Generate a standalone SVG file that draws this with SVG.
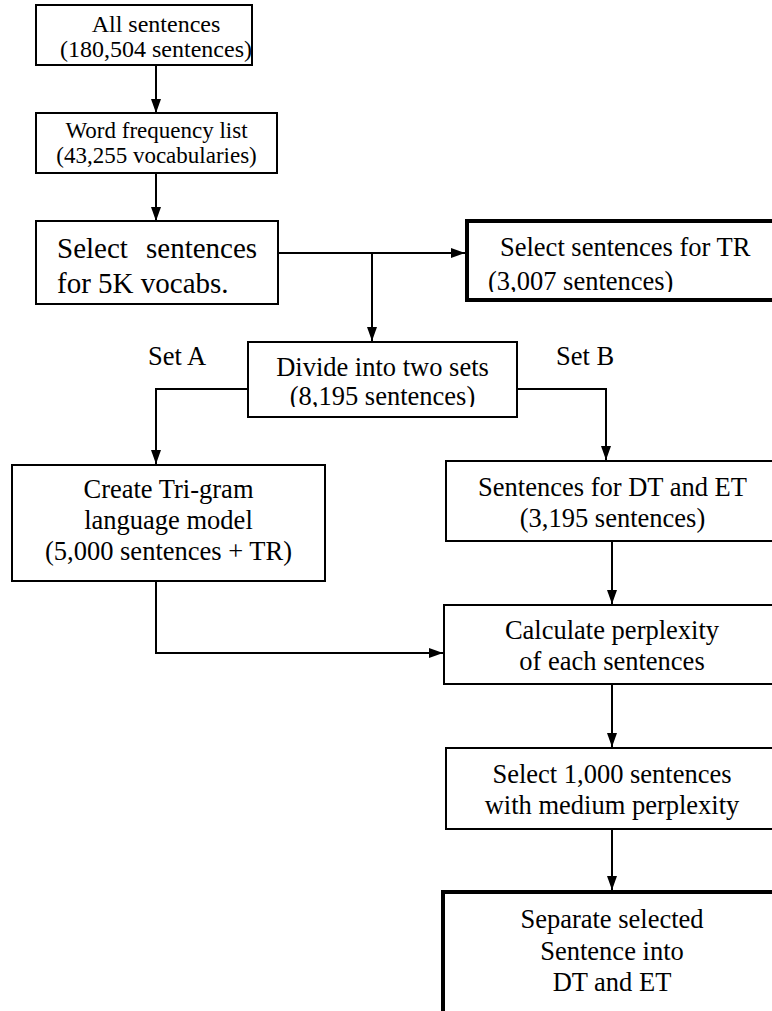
<svg xmlns="http://www.w3.org/2000/svg" width="772" height="1011" viewBox="0 0 772 1011">
  <defs>
    <marker id="arr" markerUnits="userSpaceOnUse" markerWidth="14" markerHeight="10" refX="14" refY="5" orient="auto">
      <path d="M0,0 L14,5 L0,10 z" fill="#000"/>
    </marker>
    <clipPath id="clipTR"><rect x="467" y="221" width="320" height="71"/></clipPath>
    <clipPath id="clipDiv"><rect x="248" y="342" width="269" height="65"/></clipPath>
  </defs>
  <style>
    .box { fill: #fff; stroke: #000; stroke-width: 2; }
    .thick { fill: #fff; stroke: #000; stroke-width: 4; }
    text { font-family: 'Liberation Serif', Tinos, 'DejaVu Serif', serif; fill: #000; }
    .s23 { font-size: 23px; }
    .s24 { font-size: 24px; }
    .s26 { font-size: 26.5px; }
    .s29 { font-size: 29px; }
    .c { text-anchor: middle; }
    .edge { fill: none; stroke: #000; stroke-width: 2; }
  </style>
  <rect width="772" height="1011" fill="#fff"/>

  <g id="connectors">
    <line class="edge" x1="156" y1="65" x2="156" y2="113" marker-end="url(#arr)"/>
    <line class="edge" x1="156" y1="173" x2="156" y2="221" marker-end="url(#arr)"/>
    <line class="edge" x1="278" y1="253" x2="465" y2="253" marker-end="url(#arr)"/>
    <line class="edge" x1="372" y1="253" x2="372" y2="341" marker-end="url(#arr)"/>
    <polyline class="edge" points="248,389 156,389 156,464" marker-end="url(#arr)"/>
    <polyline class="edge" points="517,389 606,389 606,460" marker-end="url(#arr)"/>
    <polyline class="edge" points="156,581 156,653 443,653" marker-end="url(#arr)"/>
    <line class="edge" x1="612" y1="541" x2="612" y2="604" marker-end="url(#arr)"/>
    <line class="edge" x1="612" y1="684" x2="612" y2="747" marker-end="url(#arr)"/>
    <line class="edge" x1="612" y1="829" x2="612" y2="890" marker-end="url(#arr)"/>
  </g>

  <g id="n_all">
    <rect class="box" x="36" y="5" width="216" height="60"/>
    <text class="s24 c" x="156" y="32">All sentences</text>
    <text class="s24 c" x="156" y="57">(180,504 sentences)</text>
  </g>

  <g id="n_wordfreq">
    <rect class="box" x="36" y="113" width="241" height="60"/>
    <text class="s23 c" x="156.5" y="138">Word frequency list</text>
    <text class="s23 c" x="156.5" y="163">(43,255 vocabularies)</text>
  </g>

  <g id="n_select5k">
    <rect class="box" x="36" y="221" width="242" height="83"/>
    <text class="s29" y="258"><tspan x="57">Select</tspan><tspan x="146">sentences</tspan></text>
    <text class="s29" x="57" y="293">for 5K vocabs.</text>
  </g>

  <g id="n_tr">
    <rect class="thick" x="467" y="221" width="320" height="79"/>
    <g clip-path="url(#clipTR)">
      <text class="s26" x="500" y="256">Select sentences for TR</text>
      <text class="s26" x="488" y="290">(3,007 sentences)</text>
    </g>
  </g>

  <g id="n_seta">
    <text class="s26" x="148" y="365">Set A</text>
  </g>
  <g id="n_setb">
    <text class="s26" x="556" y="365">Set B</text>
  </g>

  <g id="n_divide">
    <rect class="box" x="248" y="342" width="269" height="75"/>
    <g clip-path="url(#clipDiv)">
      <text class="s26 c" x="382.5" y="376">Divide into two sets</text>
      <text class="s26 c" x="382.5" y="405">(8,195 sentences)</text>
    </g>
  </g>

  <g id="n_trigram">
    <rect class="box" x="12" y="465" width="313" height="116"/>
    <text class="s26 c" x="168.5" y="498">Create Tri-gram</text>
    <text class="s26 c" x="168.5" y="529">language model</text>
    <text class="s26 c" x="168.5" y="560">(5,000 sentences + TR)</text>
  </g>

  <g id="n_dtet">
    <rect class="box" x="446" y="461" width="340" height="80"/>
    <text class="s26 c" x="612.5" y="496">Sentences for DT and ET</text>
    <text class="s26 c" x="612.5" y="527">(3,195 sentences)</text>
  </g>

  <g id="n_perplexity">
    <rect class="box" x="444" y="605" width="340" height="79"/>
    <text class="s26 c" x="612" y="639">Calculate perplexity</text>
    <text class="s26 c" x="612" y="670">of each sentences</text>
  </g>

  <g id="n_select1000">
    <rect class="box" x="446" y="748" width="340" height="81"/>
    <text class="s26 c" x="612" y="783">Select 1,000 sentences</text>
    <text class="s26 c" x="612" y="814">with medium perplexity</text>
  </g>

  <g id="n_separate">
    <rect class="thick" x="443" y="892" width="340" height="140"/>
    <text class="s26 c" x="612" y="928">Separate selected</text>
    <text class="s26 c" x="612" y="960">Sentence into</text>
    <text class="s26 c" x="612" y="991">DT and ET</text>
  </g>
</svg>
